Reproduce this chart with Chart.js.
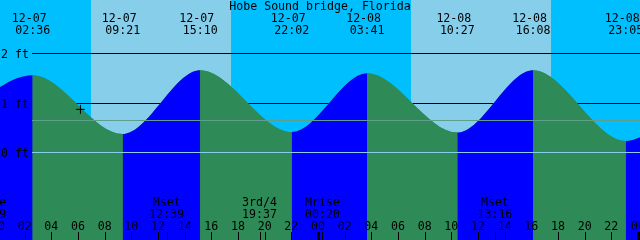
<!DOCTYPE html>
<html>
<head>
<meta charset="utf-8">
<script src="https://cdn.jsdelivr.net/npm/chart.js@4/dist/chart.umd.min.js"></script>
<style>
html,body{margin:0;padding:0;background:#ffffff;}
#wrap{width:640px;height:240px;overflow:hidden;}
canvas{display:block;}
</style>
</head>
<body>
<div id="wrap"><canvas id="c" width="640" height="240"></canvas></div>
<script>
// ---------- data ----------
const stationTitle = 'Hobe Sound bridge, Florida';

// tide extremes (first and last lie just outside the visible window)
const tideDates  = ['12-06', '12-07', '12-07', '12-07', '12-07', '12-08', '12-08', '12-08', '12-08', '12-09'];
const tideClock  = ['20:24', '02:36', '09:21', '15:10', '22:02', '03:41', '10:27', '16:08', '23:05', '05:12'];
const tideFeet   = [0.60, 1.56, 0.37, 1.66, 0.41, 1.60, 0.40, 1.66, 0.23, 1.58];

// sun
const sunDates     = ['12-07', '12-08'];
const sunriseClock = ['06:58', '06:58'];
const sunsetClock  = ['17:28', '17:28'];

// moon events
const moonNames = ['Mrise', 'Mset', '3rd/4', 'Mrise', 'Mset'];
const moonDates = ['12-06', '12-07', '12-07', '12-08', '12-08'];
const moonClock = ['23:19', '12:39', '19:37', '00:20', '13:16'];

// hour tick labels
const tickDays   = ['12-07', '12-08', '12-09'];
const hourLabels = ['00', '02', '04', '06', '08', '10', '12', '14', '16', '18', '20', '22'];

// level labels
const levelFeet   = [0, 1, 2];
const levelLabels = ['0 ft', '1 ft', '2 ft'];
const mslFeet = 0.65;

// current-time marker
const nowDate = '12-07';
const nowClock = '06:11';
const nowFeet = 0.87;

// ---------- helpers ----------
const toHours = (d, c) => {
  const day = parseInt(d.slice(3), 10) - 7;
  const parts = c.split(':').map(Number);
  return day * 24 + parts[0] + parts[1] / 60;
};

const X_MIN = 0.15, X_MAX = 48.15;
const Y_MIN = -1.77, Y_MAX = 3.08;
const NIGHT = '#00BFFF', DAY = '#87CEEB';
const FLOOD = '#0000FF', EBB = '#2E8B57';
const MSL_COLOR = '#5E9E8A', DATUM_COLOR = '#87CEEB';
const FONT = '11.6px "DejaVu Sans Mono", "Liberation Mono", monospace';

const tidePoints = tideDates.map((d, i) => ({ x: toHours(d, tideClock[i]), y: tideFeet[i] }));

const tidePlugin = {
  id: 'tidePlugin',
  beforeDatasetsDraw(chart) {
    const { ctx, chartArea: a, scales: { x, y } } = chart;
    ctx.save();
    ctx.fillStyle = NIGHT;
    ctx.fillRect(a.left, a.top, a.right - a.left, a.bottom - a.top);
    ctx.fillStyle = DAY;
    sunDates.forEach((d, i) => {
      const x1 = Math.round(x.getPixelForValue(toHours(d, sunriseClock[i])));
      const x2 = Math.round(x.getPixelForValue(toHours(d, sunsetClock[i])));
      ctx.fillRect(x1, a.top, x2 - x1, a.bottom - a.top);
    });
    ctx.fillStyle = '#000000';
    [1, 2].forEach(v => {
      const py = Math.round(y.getPixelForValue(v));
      ctx.fillRect(32, py, a.right - 32, 1);
    });
    ctx.restore();
  },
  afterDatasetsDraw(chart) {
    const { ctx, chartArea: a, scales: { x, y } } = chart;
    ctx.save();
    let py = Math.round(y.getPixelForValue(mslFeet));
    ctx.fillStyle = MSL_COLOR;
    ctx.fillRect(32, py, a.right - 32, 1);
    py = Math.round(y.getPixelForValue(0));
    ctx.fillStyle = DATUM_COLOR;
    ctx.fillRect(32, py, a.right - 32, 1);

    ctx.font = FONT;
    ctx.fillStyle = '#000000';
    ctx.textBaseline = 'alphabetic';

    ctx.textAlign = 'left';
    levelFeet.forEach((v, i) => {
      const p = Math.round(y.getPixelForValue(v));
      ctx.fillText(levelLabels[i], 1, p + 4.5);
    });

    ctx.textAlign = 'center';
    ctx.fillText(stationTitle, (a.left + a.right) / 2, 10);

    tidePoints.forEach((p, i) => {
      const px = x.getPixelForValue(p.x);
      ctx.fillText(tideDates[i], px - 3.5, 22);
      ctx.fillText(tideClock[i], px, 34);
    });

    moonNames.forEach((n, i) => {
      const px = x.getPixelForValue(toHours(moonDates[i], moonClock[i]));
      ctx.fillText(n, px, 206);
      ctx.fillText(moonClock[i], px, 218);
      ctx.fillRect(Math.round(px), 232, 1, 8);
    });

    tickDays.forEach(d => {
      hourLabels.forEach(lbl => {
        const t = toHours(d, lbl + ':00');
        if (t > X_MAX + 1) return;
        const px = x.getPixelForValue(t);
        ctx.fillText(lbl, px, 230);
        if (lbl === '00') ctx.fillRect(Math.round(px) - 1, 232, 3, 8);
        else ctx.fillRect(Math.round(px), 232, 1, 8);
      });
    });
    ctx.restore();
  }
};

new Chart(document.getElementById('c'), {
  type: 'line',
  data: {
    datasets: [
      {
        type: 'scatter',
        label: 'now',
        data: [{ x: toHours(nowDate, nowClock), y: nowFeet }],
        pointStyle: 'cross',
        pointRadius: 4.5,
        borderColor: '#000000',
        backgroundColor: '#000000',
        borderWidth: 1,
        order: 0
      },
      {
        label: 'tide',
        data: tidePoints,
        order: 1,
        fill: 'start',
        borderWidth: 0,
        borderColor: 'rgba(0,0,0,0)',
        backgroundColor: EBB,
        pointRadius: 0,
        cubicInterpolationMode: 'monotone',
        segment: {
          backgroundColor: c => (c.p1.parsed.y > c.p0.parsed.y ? FLOOD : EBB)
        }
      },
      {
        label: 'tide underlay',
        data: tidePoints,
        order: 2,
        fill: 'start',
        borderWidth: 0,
        borderColor: 'rgba(0,0,0,0)',
        backgroundColor: EBB,
        pointRadius: 0,
        cubicInterpolationMode: 'monotone'
      }
    ]
  },
  options: {
    responsive: false,
    animation: false,
    devicePixelRatio: 1,
    events: [],
    layout: { padding: 0, autoPadding: false },
    plugins: { legend: { display: false }, tooltip: { enabled: false }, title: { display: false } },
    scales: {
      x: { type: 'linear', min: X_MIN, max: X_MAX, display: false },
      y: { type: 'linear', min: Y_MIN, max: Y_MAX, display: false }
    }
  },
  plugins: [tidePlugin]
});
</script>
</body>
</html>
